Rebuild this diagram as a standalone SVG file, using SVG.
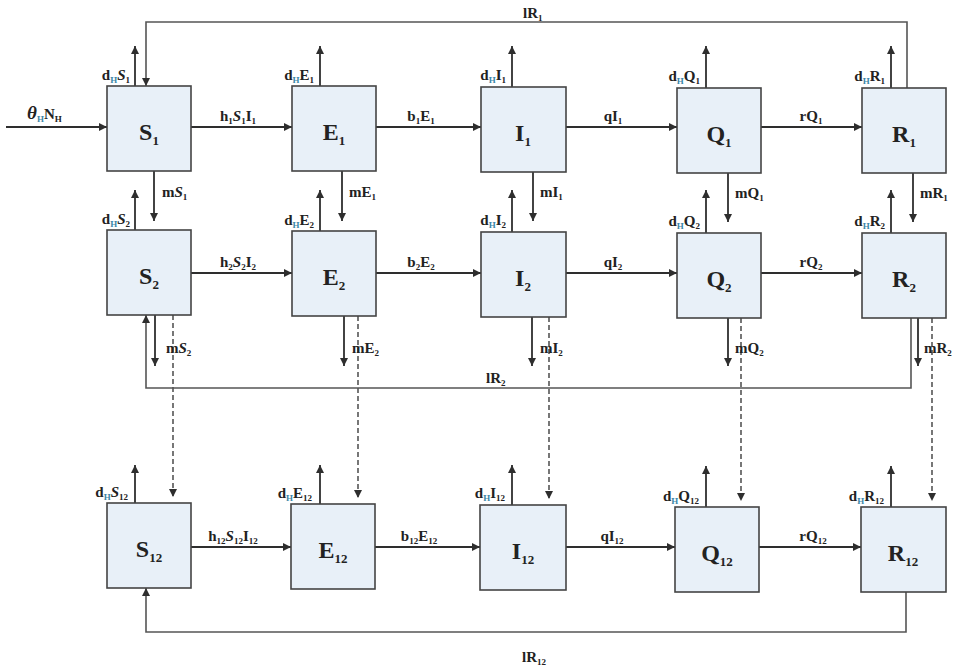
<svg xmlns="http://www.w3.org/2000/svg" width="957" height="671" viewBox="0 0 957 671">
<defs>
<marker id="ah" viewBox="0 0 10 10" refX="10" refY="5" markerWidth="9" markerHeight="8" markerUnits="userSpaceOnUse" orient="auto"><path d="M0,0 L10,5 L0,10 z" fill="#2e2e2e"/></marker>
<style>
.box{fill:#e8f0f8;stroke:#444;stroke-width:1.6}
.ln{fill:none;stroke:#2e2e2e;stroke-width:1.8}
.fb{fill:none;stroke:#555;stroke-width:1.6}
.ds{fill:none;stroke:#2e2e2e;stroke-width:1.3;stroke-dasharray:5 3}
.nl{font-family:"Liberation Serif",serif;font-weight:bold;font-size:24px;fill:#222;text-anchor:middle}
.nl .s{font-size:13px}
.el{font-family:"Liberation Serif",serif;font-weight:bold;font-size:15px;fill:#222}
.el .s{font-size:9px}
.el .h{font-size:9px;fill:#3b86a8}
.c{text-anchor:middle}
.e{text-anchor:end}
</style>
</defs>
<rect width="957" height="671" fill="#ffffff"/>

<g id="connectors">
  <line class="ln" x1="6" y1="127" x2="107" y2="127" marker-end="url(#ah)"/>
  <line class="ln" x1="191" y1="127" x2="292" y2="127" marker-end="url(#ah)"/>
  <line class="ln" x1="376" y1="127" x2="481" y2="127" marker-end="url(#ah)"/>
  <line class="ln" x1="566" y1="127" x2="677" y2="127" marker-end="url(#ah)"/>
  <line class="ln" x1="761" y1="127" x2="862" y2="127" marker-end="url(#ah)"/>
  <line class="ln" x1="191" y1="273" x2="292" y2="273" marker-end="url(#ah)"/>
  <line class="ln" x1="376" y1="273" x2="481" y2="273" marker-end="url(#ah)"/>
  <line class="ln" x1="566" y1="273" x2="677" y2="273" marker-end="url(#ah)"/>
  <line class="ln" x1="761" y1="273" x2="862" y2="273" marker-end="url(#ah)"/>
  <line class="ln" x1="191" y1="547" x2="291" y2="547" marker-end="url(#ah)"/>
  <line class="ln" x1="375" y1="547" x2="480" y2="547" marker-end="url(#ah)"/>
  <line class="ln" x1="566" y1="547" x2="675" y2="547" marker-end="url(#ah)"/>
  <line class="ln" x1="759" y1="547" x2="861" y2="547" marker-end="url(#ah)"/>
  <line class="ln" x1="135" y1="86" x2="135" y2="46" marker-end="url(#ah)"/>
  <line class="ln" x1="320" y1="86" x2="320" y2="46" marker-end="url(#ah)"/>
  <line class="ln" x1="512" y1="87" x2="512" y2="46" marker-end="url(#ah)"/>
  <line class="ln" x1="706" y1="88" x2="706" y2="46" marker-end="url(#ah)"/>
  <line class="ln" x1="891" y1="88" x2="891" y2="46" marker-end="url(#ah)"/>
  <line class="ln" x1="135" y1="230" x2="135" y2="190" marker-end="url(#ah)"/>
  <line class="ln" x1="320" y1="231" x2="320" y2="190" marker-end="url(#ah)"/>
  <line class="ln" x1="512" y1="232" x2="512" y2="190" marker-end="url(#ah)"/>
  <line class="ln" x1="706" y1="233" x2="706" y2="190" marker-end="url(#ah)"/>
  <line class="ln" x1="891" y1="233" x2="891" y2="190" marker-end="url(#ah)"/>
  <line class="ln" x1="135" y1="503" x2="135" y2="465" marker-end="url(#ah)"/>
  <line class="ln" x1="320" y1="504" x2="320" y2="465" marker-end="url(#ah)"/>
  <line class="ln" x1="512" y1="505" x2="512" y2="465" marker-end="url(#ah)"/>
  <line class="ln" x1="706" y1="507" x2="706" y2="466" marker-end="url(#ah)"/>
  <line class="ln" x1="891" y1="507" x2="891" y2="466" marker-end="url(#ah)"/>
  <line class="ln" x1="154" y1="171" x2="154" y2="221" marker-end="url(#ah)"/>
  <line class="ln" x1="342" y1="171" x2="342" y2="221" marker-end="url(#ah)"/>
  <line class="ln" x1="533" y1="172" x2="533" y2="221" marker-end="url(#ah)"/>
  <line class="ln" x1="728" y1="173" x2="728" y2="222" marker-end="url(#ah)"/>
  <line class="ln" x1="913" y1="173" x2="913" y2="222" marker-end="url(#ah)"/>
  <line class="ln" x1="155" y1="315" x2="155" y2="366" marker-end="url(#ah)"/>
  <line class="ln" x1="344" y1="316" x2="344" y2="366" marker-end="url(#ah)"/>
  <line class="ln" x1="532" y1="317" x2="532" y2="366" marker-end="url(#ah)"/>
  <line class="ln" x1="728" y1="318" x2="728" y2="366" marker-end="url(#ah)"/>
  <line class="ln" x1="918" y1="318" x2="918" y2="366" marker-end="url(#ah)"/>
  <line class="ds" x1="173" y1="315" x2="173" y2="497" marker-end="url(#ah)"/>
  <line class="ds" x1="358" y1="316" x2="358" y2="498" marker-end="url(#ah)"/>
  <line class="ds" x1="549" y1="317" x2="549" y2="499" marker-end="url(#ah)"/>
  <line class="ds" x1="741" y1="318" x2="741" y2="501" marker-end="url(#ah)"/>
  <line class="ds" x1="932" y1="318" x2="932" y2="501" marker-end="url(#ah)"/>
  <path class="fb" d="M907,88 V22 H146 V86" marker-end="url(#ah)"/>
  <path class="fb" d="M911,318 V388 H146 V315" marker-end="url(#ah)"/>
  <path class="fb" d="M906,592 V632 H146 V588" marker-end="url(#ah)"/>

  <text class="el" x="27" y="119"><tspan font-style="italic" font-size="19">θ</tspan><tspan class="h" dy="3">H</tspan><tspan dy="-3">N</tspan><tspan class="s" dy="3">H</tspan></text>

  <text class="el c" x="238" y="121">h<tspan class="s" dy="3">1</tspan><tspan dy="-3" font-style="italic">S</tspan><tspan class="s" dy="3">1</tspan><tspan dy="-3">I</tspan><tspan class="s" dy="3">1</tspan></text>
  <text class="el c" x="421" y="121">b<tspan class="s" dy="3">1</tspan><tspan dy="-3">E</tspan><tspan class="s" dy="3">1</tspan></text>
  <text class="el c" x="613" y="121">qI<tspan class="s" dy="3">1</tspan></text>
  <text class="el c" x="811" y="121">rQ<tspan class="s" dy="3">1</tspan></text>

  <text class="el c" x="238" y="267">h<tspan class="s" dy="3">2</tspan><tspan dy="-3" font-style="italic">S</tspan><tspan class="s" dy="3">2</tspan><tspan dy="-3">I</tspan><tspan class="s" dy="3">2</tspan></text>
  <text class="el c" x="421" y="267">b<tspan class="s" dy="3">2</tspan><tspan dy="-3">E</tspan><tspan class="s" dy="3">2</tspan></text>
  <text class="el c" x="613" y="267">qI<tspan class="s" dy="3">2</tspan></text>
  <text class="el c" x="811" y="267">rQ<tspan class="s" dy="3">2</tspan></text>

  <text class="el c" x="233" y="541">h<tspan class="s" dy="3">12</tspan><tspan dy="-3" font-style="italic">S</tspan><tspan class="s" dy="3">12</tspan><tspan dy="-3">I</tspan><tspan class="s" dy="3">12</tspan></text>
  <text class="el c" x="419" y="541">b<tspan class="s" dy="3">12</tspan><tspan dy="-3">E</tspan><tspan class="s" dy="3">12</tspan></text>
  <text class="el c" x="612" y="541">qI<tspan class="s" dy="3">12</tspan></text>
  <text class="el c" x="813" y="541">rQ<tspan class="s" dy="3">12</tspan></text>

  <text class="el e" x="130" y="80">d<tspan class="h" dy="3">H</tspan><tspan dy="-3" font-style="italic">S</tspan><tspan class="s" dy="3">1</tspan></text>
  <text class="el e" x="314" y="80">d<tspan class="h" dy="3">H</tspan><tspan dy="-3">E</tspan><tspan class="s" dy="3">1</tspan></text>
  <text class="el e" x="506" y="80">d<tspan class="h" dy="3">H</tspan><tspan dy="-3">I</tspan><tspan class="s" dy="3">1</tspan></text>
  <text class="el e" x="700" y="81">d<tspan class="h" dy="3">H</tspan><tspan dy="-3">Q</tspan><tspan class="s" dy="3">1</tspan></text>
  <text class="el e" x="885" y="81">d<tspan class="h" dy="3">H</tspan><tspan dy="-3">R</tspan><tspan class="s" dy="3">1</tspan></text>
  <text class="el e" x="130" y="224">d<tspan class="h" dy="3">H</tspan><tspan dy="-3" font-style="italic">S</tspan><tspan class="s" dy="3">2</tspan></text>
  <text class="el e" x="314" y="225">d<tspan class="h" dy="3">H</tspan><tspan dy="-3">E</tspan><tspan class="s" dy="3">2</tspan></text>
  <text class="el e" x="506" y="225">d<tspan class="h" dy="3">H</tspan><tspan dy="-3">I</tspan><tspan class="s" dy="3">2</tspan></text>
  <text class="el e" x="700" y="226">d<tspan class="h" dy="3">H</tspan><tspan dy="-3">Q</tspan><tspan class="s" dy="3">2</tspan></text>
  <text class="el e" x="885" y="226">d<tspan class="h" dy="3">H</tspan><tspan dy="-3">R</tspan><tspan class="s" dy="3">2</tspan></text>
  <text class="el e" x="128" y="497">d<tspan class="h" dy="3">H</tspan><tspan dy="-3" font-style="italic">S</tspan><tspan class="s" dy="3">12</tspan></text>
  <text class="el e" x="312" y="498">d<tspan class="h" dy="3">H</tspan><tspan dy="-3">E</tspan><tspan class="s" dy="3">12</tspan></text>
  <text class="el e" x="505" y="498">d<tspan class="h" dy="3">H</tspan><tspan dy="-3">I</tspan><tspan class="s" dy="3">12</tspan></text>
  <text class="el e" x="699" y="501">d<tspan class="h" dy="3">H</tspan><tspan dy="-3">Q</tspan><tspan class="s" dy="3">12</tspan></text>
  <text class="el e" x="884" y="501">d<tspan class="h" dy="3">H</tspan><tspan dy="-3">R</tspan><tspan class="s" dy="3">12</tspan></text>
  <text class="el" x="162" y="197">m<tspan font-style="italic">S</tspan><tspan class="s" dy="3">1</tspan></text>
  <text class="el" x="349" y="197">mE<tspan class="s" dy="3">1</tspan></text>
  <text class="el" x="540" y="197">mI<tspan class="s" dy="3">1</tspan></text>
  <text class="el" x="735" y="198">mQ<tspan class="s" dy="3">1</tspan></text>
  <text class="el" x="920" y="198">mR<tspan class="s" dy="3">1</tspan></text>
  <text class="el" x="166" y="353">m<tspan font-style="italic">S</tspan><tspan class="s" dy="3">2</tspan></text>
  <text class="el" x="352" y="353">mE<tspan class="s" dy="3">2</tspan></text>
  <text class="el" x="540" y="353">mI<tspan class="s" dy="3">2</tspan></text>
  <text class="el" x="735" y="353">mQ<tspan class="s" dy="3">2</tspan></text>
  <text class="el" x="924" y="353">mR<tspan class="s" dy="3">2</tspan></text>
  <text class="el" x="523" y="18">lR<tspan class="s" dy="3">1</tspan></text>
  <text class="el" x="486" y="383">lR<tspan class="s" dy="3">2</tspan></text>
  <text class="el" x="522" y="662">lR<tspan class="s" dy="3">12</tspan></text>
</g>

<g id="n-S1"><rect class="box" x="107" y="86" width="84" height="85"/><text class="nl" x="149" y="140">S<tspan class="s" dy="5">1</tspan></text></g>
<g id="n-E1"><rect class="box" x="292" y="86" width="84" height="85"/><text class="nl" x="334" y="140">E<tspan class="s" dy="5">1</tspan></text></g>
<g id="n-I1"><rect class="box" x="481" y="87" width="85" height="85"/><text class="nl" x="523" y="141">I<tspan class="s" dy="5">1</tspan></text></g>
<g id="n-Q1"><rect class="box" x="677" y="88" width="84" height="85"/><text class="nl" x="719" y="142">Q<tspan class="s" dy="5">1</tspan></text></g>
<g id="n-R1"><rect class="box" x="862" y="88" width="84" height="85"/><text class="nl" x="904" y="142">R<tspan class="s" dy="5">1</tspan></text></g>

<g id="n-S2"><rect class="box" x="107" y="230" width="84" height="85"/><text class="nl" x="149" y="284">S<tspan class="s" dy="5">2</tspan></text></g>
<g id="n-E2"><rect class="box" x="292" y="231" width="84" height="85"/><text class="nl" x="334" y="285">E<tspan class="s" dy="5">2</tspan></text></g>
<g id="n-I2"><rect class="box" x="481" y="232" width="85" height="85"/><text class="nl" x="523" y="286">I<tspan class="s" dy="5">2</tspan></text></g>
<g id="n-Q2"><rect class="box" x="677" y="233" width="84" height="85"/><text class="nl" x="719" y="287">Q<tspan class="s" dy="5">2</tspan></text></g>
<g id="n-R2"><rect class="box" x="862" y="233" width="84" height="85"/><text class="nl" x="904" y="287">R<tspan class="s" dy="5">2</tspan></text></g>

<g id="n-S12"><rect class="box" x="107" y="503" width="84" height="85"/><text class="nl" x="149" y="557">S<tspan class="s" dy="5">12</tspan></text></g>
<g id="n-E12"><rect class="box" x="291" y="504" width="84" height="85"/><text class="nl" x="333" y="558">E<tspan class="s" dy="5">12</tspan></text></g>
<g id="n-I12"><rect class="box" x="480" y="505" width="86" height="85"/><text class="nl" x="523" y="559">I<tspan class="s" dy="5">12</tspan></text></g>
<g id="n-Q12"><rect class="box" x="675" y="507" width="84" height="85"/><text class="nl" x="717" y="561">Q<tspan class="s" dy="5">12</tspan></text></g>
<g id="n-R12"><rect class="box" x="861" y="507" width="85" height="85"/><text class="nl" x="903" y="561">R<tspan class="s" dy="5">12</tspan></text></g>
</svg>
